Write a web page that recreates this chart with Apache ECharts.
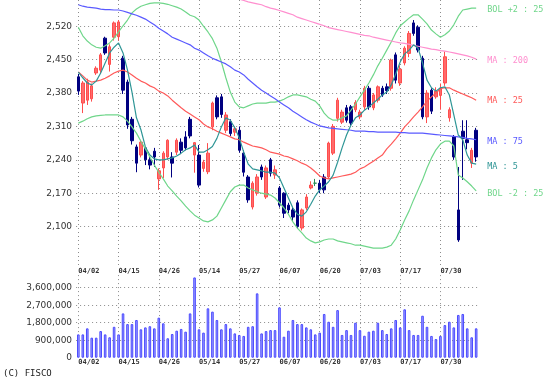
<!DOCTYPE html>
<html><head><meta charset="utf-8">
<script src="https://cdn.jsdelivr.net/npm/echarts@6/dist/echarts.min.js"></script>
<style>html,body{margin:0;padding:0;background:#fff}#c{width:557px;height:380px}</style>
</head><body><div id="c"></div>
<script>
const dates = ['04/02','04/03','04/04','04/05','04/08','04/09','04/10','04/11','04/12','04/15',
'04/16','04/17','04/18','04/19','04/22','04/23','04/24','04/25','04/26','04/30',
'05/01','05/02','05/07','05/08','05/09','05/10','05/13','05/14','05/15','05/16',
'05/17','05/20','05/21','05/22','05/23','05/24','05/27','05/28','05/29','05/30',
'05/31','06/03','06/04','06/05','06/06','06/07','06/10','06/11','06/12','06/13',
'06/14','06/17','06/18','06/19','06/20','06/21','06/24','06/25','06/26','06/27',
'06/28','07/01','07/02','07/03','07/04','07/05','07/08','07/09','07/10','07/11',
'07/12','07/16','07/17','07/18','07/19','07/22','07/23','07/24','07/25','07/26',
'07/29','07/30','07/31','08/01','08/02','08/05','08/06','08/07','08/08','08/09'];

const openP = [2414,2359,2365,2368,2422,2428,2495,2440,2497,2498, 2453,2403,2325,2267,2250,2265,2240,2258,2200,2223,
2246,2246,2256,2277,2288,2325,2250,2250,2222,2215, 2309,2370,2372,2302,2320,2298,2302,2254,2204,2141,
2170,2225,2162,2240,2208,2181,2170,2145,2135,2150, 2097,2139,2181,2191,2191,2204,2204,2254,2327,2319,
2349,2351,2345,2330,2351,2390,2349,2365,2390,2393, 2390,2460,2401,2443,2463,2527,2518,2453,2330,2386,
2372,2375,2401,2328,2288,2135,2300,2282,2233,2302];
const closeP = [2384,2401,2403,2395,2432,2460,2464,2477,2527,2529, 2386,2313,2280,2233,2277,2240,2229,2246,2217,2254,
2281,2233,2281,2260,2265,2290,2276,2187,2235,2254, 2359,2330,2335,2334,2295,2305,2260,2214,2156,2191,
2204,2204,2223,2212,2219,2145,2128,2135,2120,2100, 2135,2162,2187,2191,2177,2177,2275,2310,2365,2340,
2323,2317,2360,2340,2390,2351,2376,2393,2376,2385, 2449,2407,2430,2474,2505,2505,2470,2330,2380,2342,
2384,2390,2456,2345,2246,2072,2285,2276,2260,2246];
const lowP = [2376,2338,2355,2362,2418,2420,2460,2425,2490,2490, 2378,2305,2272,2214,2245,2229,2220,2225,2177,2202,
2240,2203,2250,2252,2260,2285,2213,2182,2215,2210, 2302,2325,2328,2296,2290,2290,2255,2205,2150,2136,
2165,2198,2158,2205,2200,2140,2118,2128,2112,2095, 2092,2135,2178,2185,2170,2170,2200,2250,2320,2315,
2318,2312,2340,2325,2345,2345,2344,2360,2372,2378, 2385,2400,2395,2438,2455,2500,2465,2325,2317,2336,
2368,2345,2395,2320,2240,2068,2198,2262,2223,2236];
const highP = [2420,2405,2410,2400,2436,2464,2498,2482,2530,2533, 2458,2408,2330,2272,2282,2266,2247,2265,2222,2258,
2283,2256,2285,2285,2300,2330,2277,2271,2240,2275, 2362,2375,2378,2340,2325,2310,2310,2260,2208,2195,
2210,2230,2228,2244,2228,2185,2172,2150,2140,2155, 2138,2168,2195,2200,2198,2210,2278,2315,2370,2345,
2355,2355,2365,2345,2395,2395,2380,2396,2395,2400, 2452,2465,2438,2478,2510,2533,2522,2458,2386,2390,
2392,2400,2467,2350,2292,2225,2323,2323,2265,2307];

const volume = [1200000,1200000,1510000,1030000,1030000,1370000,1200000,1050000,1590000,1200000,
2280000,1730000,1730000,1940000,1460000,1560000,1620000,1510000,2060000,1770000,
1000000,1220000,1390000,1480000,1340000,2280000,4130000,1460000,1290000,2540000,
2370000,1940000,1460000,1730000,1510000,1250000,1170000,1120000,1590000,1620000,
3310000,1250000,1370000,1420000,1420000,2590000,1080000,1390000,1940000,1730000,
1730000,1560000,1460000,1200000,1290000,2250000,1850000,1590000,2450000,1170000,
1420000,1170000,1800000,1420000,1130000,1340000,1390000,1800000,1420000,1220000,
1510000,1940000,1560000,2490000,1420000,1170000,1170000,2160000,1590000,1120000,
960000,1120000,1680000,1850000,1560000,2200000,2250000,1510000,1050000,1510000];

const ma5 = [2424,2412,2401,2397,2405,2422,2443,2464,2476,2485, 2464,2428,2382,2328,2303,2267,2250,2242,2240,2240,
2242,2244,2248,2254,2261,2265,2271,2256,2256,2261, 2268,2285,2309,2328,2323,2307,2286,2256,2231,2221,
2219,2217,2214,2214,2212,2202,2181,2160,2139,2126, 2122,2131,2147,2164,2177,2185,2194,2208,2235,2265,
2292,2313,2328,2334,2344,2351,2359,2367,2376,2382, 2397,2420,2445,2462,2470,2481,2474,2443,2407,2391,
2384,2391,2393,2376,2334,2292,2282,2250,2233,2231];
const ma25 = [2424,2416,2407,2403,2405,2407,2411,2416,2422,2426, 2428,2424,2418,2411,2405,2401,2395,2391,2384,2380,
2374,2365,2357,2349,2342,2336,2330,2324,2315,2309, 2305,2300,2296,2292,2288,2284,2282,2277,2273,2269,
2267,2265,2261,2256,2254,2252,2248,2246,2242,2238, 2233,2229,2223,2215,2206,2202,2200,2202,2204,2206,
2208,2210,2214,2221,2225,2231,2237,2244,2250,2263, 2273,2284,2296,2309,2319,2330,2340,2351,2363,2372,
2380,2389,2391,2391,2386,2382,2378,2374,2370,2365];
const ma75 = [2565,2562,2560,2559,2558,2556,2555,2555,2554,2554, 2552,2549,2546,2543,2539,2535,2529,2523,2516,2510,
2504,2497,2493,2489,2485,2481,2474,2470,2464,2458, 2453,2449,2445,2441,2435,2428,2424,2418,2409,2401,
2393,2386,2380,2374,2368,2361,2355,2349,2342,2336, 2330,2324,2319,2315,2311,2309,2307,2306,2305,2304,
2303,2302,2300,2300,2300,2299,2299,2298,2298,2298, 2298,2298,2297,2297,2296,2296,2296,2296,2295,2294,
2293,2292,2291,2290,2289,2288,2287,2285,2284,2282];
const ma200 = [null,null,null,null,null,null,null,null,null,null, null,null,null,null,null,null,null,null,null,null,
null,null,null,null,null,null,null,null,null,null, null,null,null,null,2590,2583,2577,2574,2571,2569,
2567,2565,2561,2558,2556,2553,2550,2547,2544,2539, 2536,2533,2530,2527,2524,2521,2517,2515,2513,2511,
2509,2507,2505,2503,2501,2500,2497,2495,2493,2491, 2489,2487,2485,2484,2482,2480,2478,2476,2474,2472,
2471,2469,2468,2466,2464,2462,2460,2458,2455,2451];
const bolUp = [2518,2500,2489,2481,2476,2474,2479,2485,2495,2508, 2521,2533,2548,2556,2562,2565,2568,2569,2569,2568,
2566,2563,2560,2556,2550,2543,2540,2533,2520,2508, 2494,2474,2445,2412,2382,2361,2351,2349,2353,2357,
2359,2359,2359,2361,2361,2363,2367,2372,2376,2376, 2374,2372,2367,2363,2353,2338,2328,2323,2323,2328,
2332,2344,2357,2372,2386,2401,2418,2437,2453,2470, 2487,2506,2521,2529,2537,2544,2544,2535,2525,2512,
2504,2497,2502,2510,2523,2541,2554,2556,2558,2558];
const bolDn = [2317,2321,2326,2330,2332,2333,2334,2334,2334,2334, 2330,2321,2309,2296,2279,2263,2246,2229,2214,2200,
2185,2175,2164,2154,2143,2133,2124,2118,2112,2110, 2114,2122,2139,2156,2173,2183,2187,2187,2181,2177,
2173,2170,2168,2166,2160,2150,2139,2126,2110,2097, 2087,2076,2070,2066,2068,2072,2074,2074,2070,2068,
2066,2064,2061,2061,2059,2057,2055,2055,2055,2057, 2061,2074,2093,2114,2133,2156,2177,2198,2223,2244,
2261,2273,2279,2279,2269,2208,2202,2194,2185,2175];

const candles = dates.map((d, i) => [openP[i], closeP[i], lowP[i], highP[i]]);

const L = 76.1, W = 402.3;
const fmt = v => Number(v).toLocaleString('en-US');
const axisFont = {fontFamily: 'DejaVu Sans', fontSize: 9, color: '#333'};
const dateFont = {fontFamily: 'DejaVu Sans Mono', fontSize: 7, fontWeight: 'bold', color: '#333'};
const dotted = {color: '#8c8c8c', type: [1, 3], width: 1};
const legFont = {fontFamily: 'DejaVu Sans Mono', fontSize: 8.5};

function lineSeries(data, color, label, dy) {
  return {
    type: 'line', xAxisIndex: 0, yAxisIndex: 0, data: data,
    symbol: 'none', showSymbol: false, z: 3, silent: true,
    lineStyle: {color: color, width: 1.2}, itemStyle: {color: color},
    endLabel: Object.assign({show: true, formatter: label, color: color, distance: 11, offset: [0, dy || 0]}, legFont)
  };
}

const chart = echarts.init(document.getElementById('c'), null, {renderer: 'canvas'});
chart.setOption({
  animation: false,
  grid: [
    {left: L, width: W, top: 0, height: 260},
    {left: L, width: W, top: 275.1, height: 82.6},
    {left: L, width: W, top: 0, height: 266}
  ],
  xAxis: [
    {gridIndex: 0, type: 'category', data: dates, axisLine: {show: false}, axisTick: {show: false},
     axisLabel: {show: false}, splitLine: {show: false}},
    {gridIndex: 1, type: 'category', data: dates, axisLine: {show: false}, axisTick: {show: false},
     axisLabel: Object.assign({interval: 8, align: 'left', margin: 1}, dateFont),
     splitLine: {show: true, interval: 8, alignWithLabel: true, lineStyle: dotted}},
    {gridIndex: 2, type: 'category', data: dates, axisLine: {show: false}, axisTick: {show: false},
     axisLabel: Object.assign({interval: 8, align: 'left', margin: 2}, dateFont),
     splitLine: {show: true, interval: 8, alignWithLabel: true, lineStyle: dotted}}
  ],
  yAxis: [
    {gridIndex: 0, type: 'value', min: 2030, max: 2575, interval: 70, axisLine: {show: false}, axisTick: {show: false},
     axisLabel: Object.assign({showMinLabel: false, showMaxLabel: false, formatter: fmt, margin: 4}, axisFont),
     splitLine: {show: true, showMinLine: false, showMaxLine: false, lineStyle: dotted}},
    {gridIndex: 1, type: 'value', min: 0, max: 4250000, interval: 900000, axisLine: {show: false}, axisTick: {show: false},
     axisLabel: Object.assign({showMaxLabel: false, formatter: fmt, margin: 4}, axisFont),
     splitLine: {show: true, showMinLine: false, showMaxLine: false, lineStyle: dotted}},
    {gridIndex: 2, type: 'value', show: false}
  ],
  series: [
    {type: 'candlestick', xAxisIndex: 0, yAxisIndex: 0, data: candles, barWidth: 3, z: 2,
     itemStyle: {color: '#ff6b6b', color0: '#000080', borderColor: '#ff4d4d', borderColor0: '#000080',
                 borderColorDoji: '#2e8b57', borderWidth: 1}},
    lineSeries(bolUp, '#6fd68a', 'BOL +2 : 25', 2),
    lineSeries(ma200, '#ff8fcf', 'MA : 200', 2),
    lineSeries(ma25, '#ff5a5a', 'MA : 25', 1),
    lineSeries(ma75, '#5a5aff', 'MA : 75', 2),
    lineSeries(ma5, '#2f9696', 'MA : 5', 3),
    lineSeries(bolDn, '#6fd68a', 'BOL -2 : 25', 3),
    {type: 'bar', xAxisIndex: 1, yAxisIndex: 1, data: volume, barWidth: 2.6,
     itemStyle: {color: '#a3a3ff', borderColor: '#4b4bff', borderWidth: 1}}
  ],
  graphic: [
    {type: 'text', left: 3, top: 369, style: {text: '(C) FISCO', fontFamily: 'DejaVu Sans Mono', fontSize: 9, fill: '#222'}}
  ]
});
</script>
</body></html>
